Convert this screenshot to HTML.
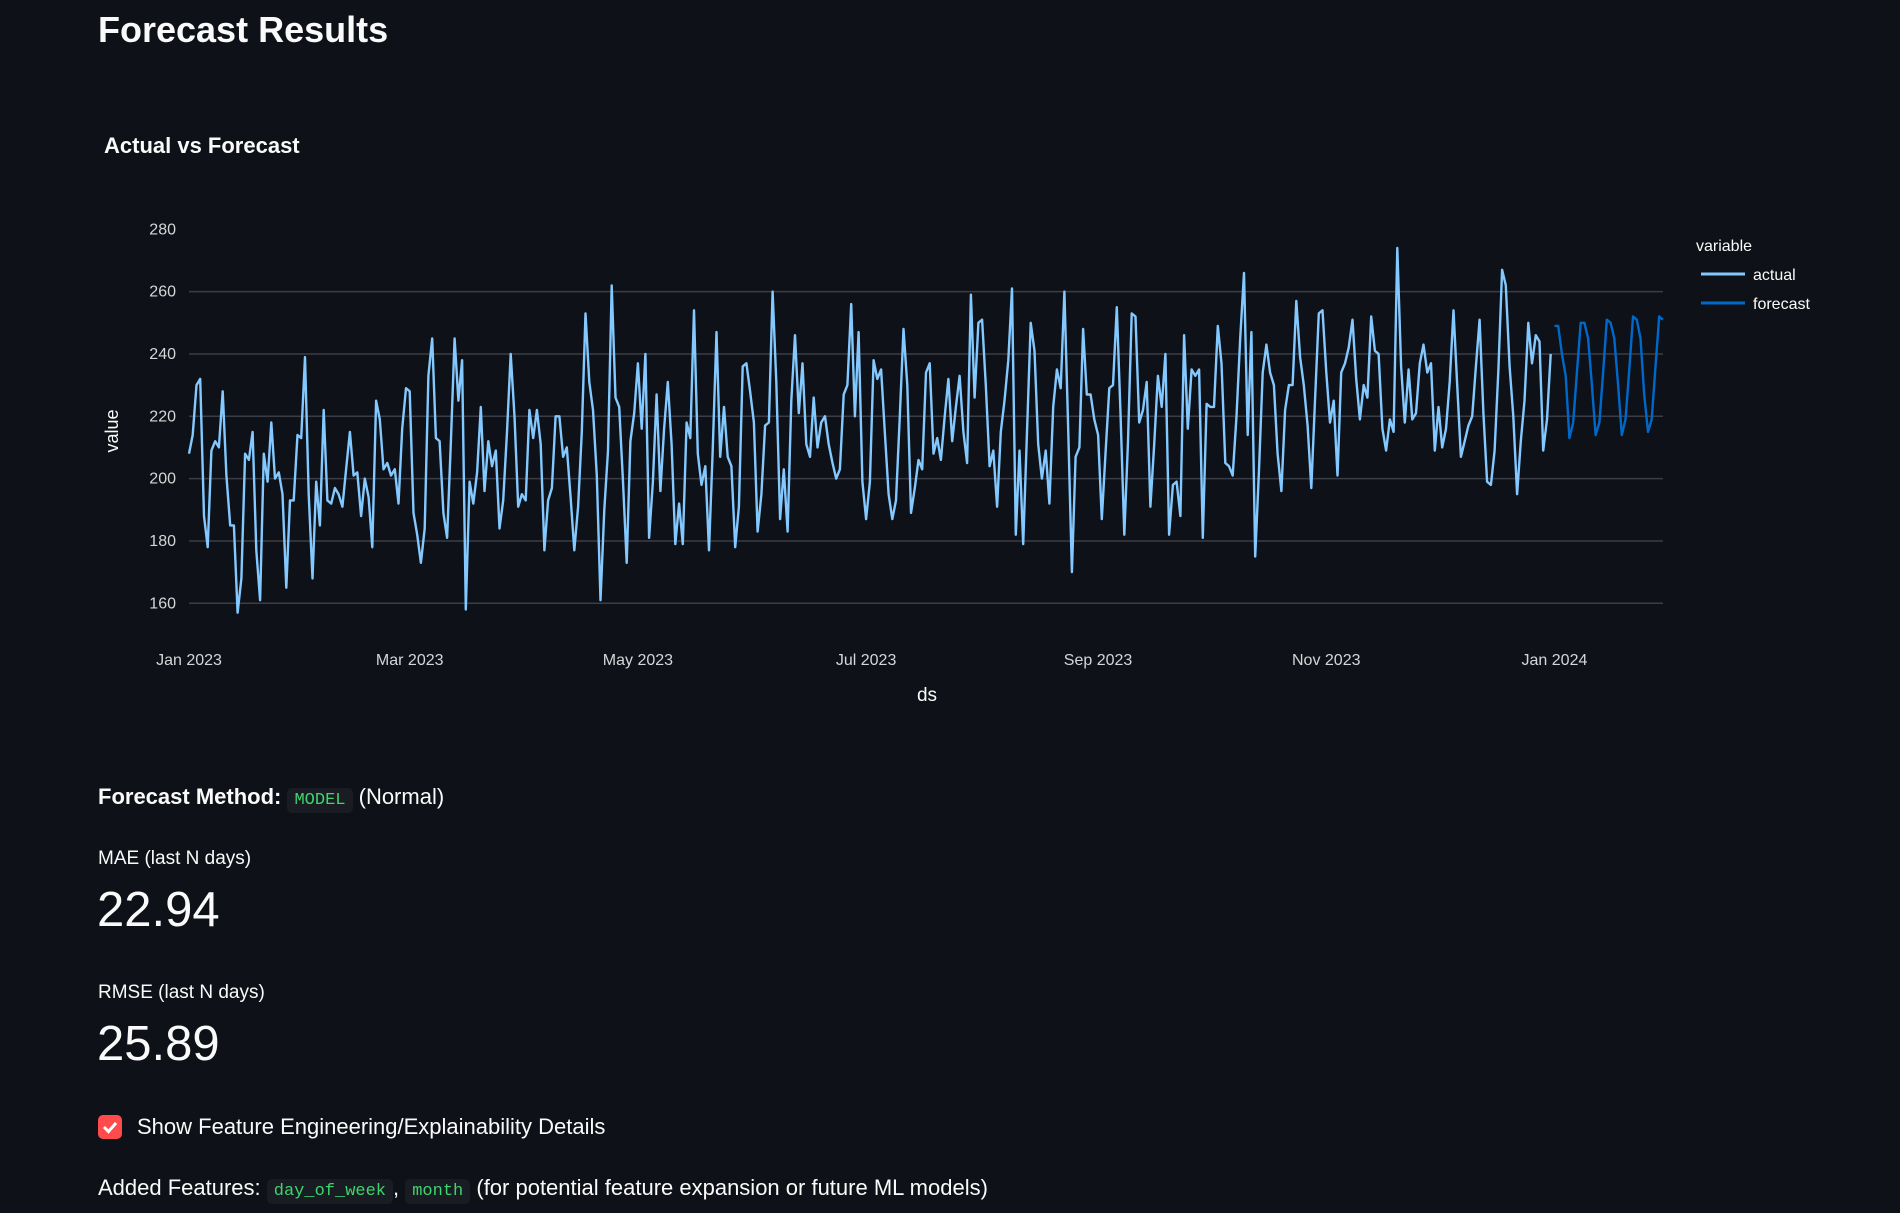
<!DOCTYPE html>
<html><head><meta charset="utf-8"><style>
html,body{margin:0;padding:0;background:#0e1117;width:1900px;height:1213px;overflow:hidden;font-family:"Liberation Sans",sans-serif;color:#fafafa}
.abs{position:absolute;white-space:nowrap}
code{font-family:"Liberation Mono",monospace;color:#3dd56d;background:#1a1c24;border-radius:5px;padding:3px 7px;font-size:17px}
</style></head><body>
<div class="abs" style="left:98px;top:9px;font-size:36px;font-weight:bold">Forecast Results</div>
<svg id="chart" width="1900" height="740" style="position:absolute;left:0;top:0">
<text x="104" y="153" fill="#fafafa" font-size="22" font-weight="bold" font-family="Liberation Sans, sans-serif">Actual vs Forecast</text>
<g id="grid"></g><g id="lines"></g>
<text x="0" y="0" transform="translate(118,431) rotate(-90)" text-anchor="middle" fill="#fafafa" font-size="18" font-family="Liberation Sans, sans-serif">value</text>
<text x="927" y="701" text-anchor="middle" fill="#fafafa" font-size="19" font-family="Liberation Sans, sans-serif">ds</text>
<g>
<text x="1696" y="251" fill="#fafafa" font-size="16" font-family="Liberation Sans, sans-serif">variable</text>
<g><line x1="1701" y1="274" x2="1745" y2="274" stroke="#83c9ff" stroke-width="3"/><text x="1753" y="280" fill="#fafafa" font-size="16" font-family="Liberation Sans, sans-serif">actual</text></g>
<g><line x1="1701" y1="303" x2="1745" y2="303" stroke="#0068c9" stroke-width="3"/><text x="1753" y="309" fill="#fafafa" font-size="16" font-family="Liberation Sans, sans-serif">forecast</text></g>
</g>
</svg>
<div class="abs" style="left:98px;top:784px;font-size:22px"><b>Forecast Method:</b> <code>MODEL</code> (Normal)</div>
<div class="abs" style="left:98px;top:848px;font-size:19px">MAE (last N days)</div>
<div class="abs" style="left:97px;top:882px;font-size:49px">22.94</div>
<div class="abs" style="left:98px;top:982px;font-size:19px">RMSE (last N days)</div>
<div class="abs" style="left:97px;top:1016px;font-size:49px">25.89</div>
<div class="abs" style="left:98px;top:1115px;width:24px;height:24px;background:#ff4b4b;border-radius:5px">
<svg width="24" height="24"><path d="M6 12 L10.5 16.5 L18 8" stroke="#fff" stroke-width="3" fill="none"/></svg></div>
<div class="abs" style="left:137px;top:1114px;font-size:22px">Show Feature Engineering/Explainability Details</div>
<div class="abs" style="left:98px;top:1175px;font-size:22px">Added Features: <code>day_of_week</code>, <code>month</code> (for potential feature expansion or future ML models)</div>
<script>
const actualValues=[208,214,230,232,188,178,209,212,210,228,201,185,185,157,168,208,206,215,177,161,208,199,218,200,202,195,165,193,193,214,213,239,195,168,199,185,222,193,192,197,195,191,203,215,201,202,188,200,194,178,225,219,203,205,201,203,192,216,229,228,189,182,173,184,233,245,213,212,189,181,212,245,225,238,158,199,192,202,223,196,212,204,209,184,193,215,240,220,191,195,193,222,213,222,211,177,193,197,220,
220,207,210,194,177,191,215,253,231,222,201,161,190,209,262,226,223,199,173,212,221,237,216,240,181,199,227,196,216,231,211,179,192,179,218,213,254,208,198,204,177,209,247,207,223,207,204,178,191,236,237,228,218,183,195,217,218,260,231,187,203,183,225,246,221,237,211,207,226,210,218,220,211,205,200,203,227,230,256,220,247,199,187,199,238,232,235,215,195,187,193,220,248,230,189,197,206,203,234,237,
208,213,206,220,232,212,223,233,215,205,259,226,250,251,230,204,209,191,215,225,238,261,182,209,179,215,250,241,211,200,209,192,223,235,229,260,217,170,207,210,248,227,227,219,214,187,208,229,230,255,221,182,212,253,252,218,222,231,191,211,233,223,240,182,198,199,188,246,216,235,233,235,181,224,223,223,249,237,205,204,201,220,245,266,214,247,175,202,234,243,234,230,208,196,222,230,230,257,
239,230,217,197,225,253,254,234,218,225,201,234,237,242,251,232,219,230,226,252,241,240,216,209,219,215,274,236,218,235,219,221,237,243,234,237,209,223,210,216,231,254,230,207,212,217,220,236,251,221,199,198,209,235,267,262,236,220,195,212,225,250,237,246,244,209,219,240];
const forecastValues=[249,249,240,233,213,218,234,250,250,245,230,214,218,234,251,250,245,230,214,219,235,252,251,245,227,215,219,236,252,251];
const yTicks=[160,180,200,220,240,260,280];
const xTickLabels=["Jan 2023","Mar 2023","May 2023","Jul 2023","Sep 2023","Nov 2023","Jan 2024"];
const xTickDays=[0,59,120,181,243,304,365];
const forecastStartDay=365;
const X0=189,PX_PER_DAY=3.741,Y0=603.3,PX_PER_UNIT=3.117,XMAX=1663;
const xs=d=>X0+d*PX_PER_DAY, ys=v=>Y0-(v-160)*PX_PER_UNIT;
const NS="http://www.w3.org/2000/svg";
const grid=document.getElementById('grid'),lines=document.getElementById('lines');
yTicks.forEach(t=>{
 if(t<280){const l=document.createElementNS(NS,'line');
 
 
 l.setAttribute('x1',X0);l.setAttribute('x2',XMAX);l.setAttribute('y1',ys(t));l.setAttribute('y2',ys(t));
 l.setAttribute('stroke','#3a3d45');l.setAttribute('stroke-width','1.5');grid.appendChild(l);}
 const tx=document.createElementNS(NS,'text');
 
 
 tx.setAttribute('x',176);tx.setAttribute('y',ys(t)+5);tx.setAttribute('text-anchor','end');
 tx.setAttribute('fill','#d6d6d9');tx.setAttribute('font-size','16');tx.setAttribute('font-family','Liberation Sans, sans-serif');
 tx.textContent=t;grid.appendChild(tx);
});
xTickLabels.forEach((lab,i)=>{
 const tx=document.createElementNS(NS,'text');
 
 
 tx.setAttribute('x',xs(xTickDays[i]));tx.setAttribute('y',665);tx.setAttribute('text-anchor','middle');
 tx.setAttribute('fill','#d6d6d9');tx.setAttribute('font-size','16');tx.setAttribute('font-family','Liberation Sans, sans-serif');
 tx.textContent=lab;grid.appendChild(tx);
});
function drawLine(vals,start,color,name){
 const p=document.createElementNS(NS,'polyline');
 
 
 p.setAttribute('points',vals.map((v,i)=>xs(start+i).toFixed(1)+','+ys(v).toFixed(1)).join(' '));
 p.setAttribute('fill','none');p.setAttribute('stroke',color);p.setAttribute('stroke-width','2.4');p.setAttribute('stroke-linejoin','round');
 lines.appendChild(p);
}
drawLine(actualValues,0,'#83c9ff','actual-line');
drawLine(forecastValues,forecastStartDay,'#0068c9','forecast-line');
</script>
</body></html>
